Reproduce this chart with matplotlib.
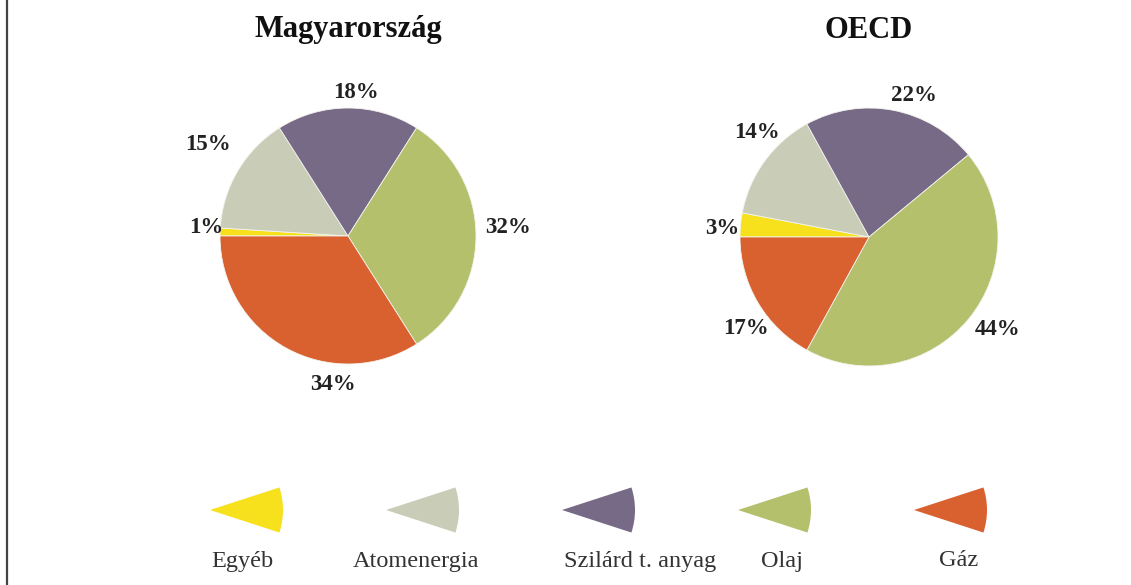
import numpy as np
import matplotlib
matplotlib.use("Agg")
import matplotlib.pyplot as plt
from matplotlib.patches import Wedge
from matplotlib.lines import Line2D

plt.rcParams['font.family'] = ['Liberation Serif', 'DejaVu Serif']

# data
categories = ['Egyéb', 'Atomenergia', 'Szilárd t. anyag', 'Olaj', 'Gáz']
hu_values = [1, 15, 18, 32, 34]
oecd_values = [3, 14, 22, 44, 17]
titles = ['Magyarország', 'OECD']

colors = ['#f6e11c', '#c9cdb8', '#776a86', '#b5c06c', '#d9602f']

W, H = 1131, 585
fig = plt.figure(figsize=(W / 100, H / 100), dpi=100)

# label placement per chart: (angle offset from wedge middle in deg, radius factor)
hu_label_pos = [(-1.5, 1.11), (-2.5, 1.31), (-3, 1.12), (3, 1.25), (23, 1.17)]
oecd_label_pos = [(2, 1.14), (-7, 1.19), (-7, 1.15), (4, 1.23), (6, 1.19)]


def draw_pie(cx, cy, r, values, title, label_pos):
    # cx, cy, r in pixels (image coords, y down)
    ax = fig.add_axes([(cx - r) / W, (H - cy - r) / H, 2 * r / W, 2 * r / H])
    wedges, _ = ax.pie(values, colors=colors, startangle=180, counterclock=False,
                       wedgeprops=dict(edgecolor='#f4f4ee', linewidth=0.6))
    ax.set_xlim(-1, 1)
    ax.set_ylim(-1, 1)
    ax.set_aspect('equal')
    ax.axis('off')
    for w, v, (da, rf) in zip(wedges, values, label_pos):
        mid = np.deg2rad((w.theta1 + w.theta2) / 2 + da)
        ax.text(rf * np.cos(mid), rf * np.sin(mid), f'{v}%', ha='center', va='center',
                fontsize=16.5, fontweight='bold', color='#222222', clip_on=False)
    fig.text(cx / W, 1 - 30 / H, title, ha='center', va='center',
             fontsize=22, fontweight='bold', color='#111111')


draw_pie(348, 236, 128, hu_values, titles[0], hu_label_pos)
draw_pie(869, 237, 129, oecd_values, titles[1], oecd_label_pos)

# legend with wedge shaped keys
lax = fig.add_axes([0, 0, 1, 117 / H])
lax.set_xlim(0, W)
lax.set_ylim(0, 117)
lax.axis('off')
label_dx = [32, 30, 78, 44, 45]
for i, (name, c) in enumerate(zip(categories, colors)):
    x0 = 210 + 176 * i
    lax.add_patch(Wedge((x0, 75), 73, -18, 18, facecolor=c, edgecolor='none'))
    lax.text(x0 + label_dx[i], 24, name, ha='center', va='center',
             fontsize=17.5, color='#333333')

# left border line
fig.add_artist(Line2D([7 / W, 7 / W], [0, 1], color='#444444', linewidth=1.6))

fig.savefig('out.png', dpi=100, facecolor='white')
